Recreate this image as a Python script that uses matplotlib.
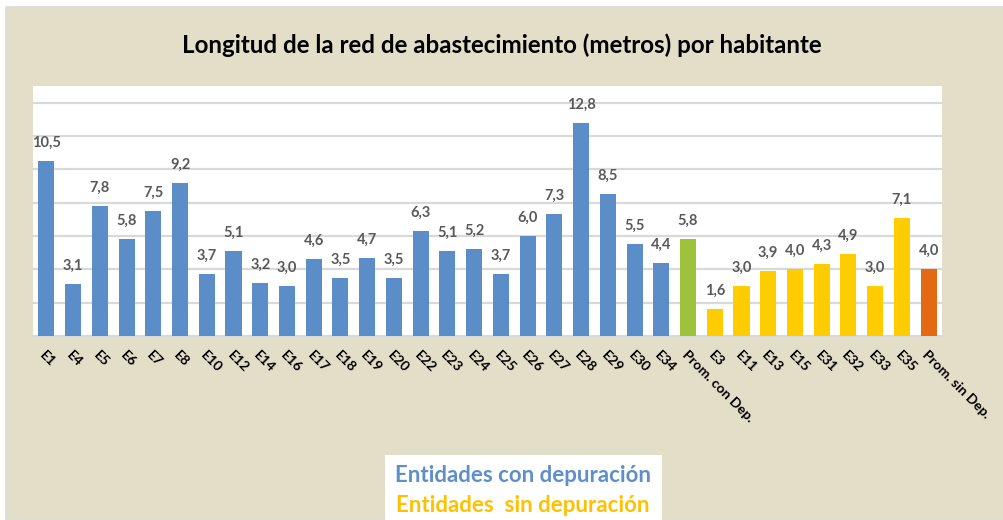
import matplotlib
matplotlib.use("Agg")
import matplotlib.pyplot as plt
from matplotlib.patches import Rectangle

plt.rcParams['font.family'] = ['Lato', 'DejaVu Sans']

# --- data ---------------------------------------------------------------
con_dep_names = ["E1", "E4", "E5", "E6", "E7", "E8", "E10", "E12", "E14", "E16",
                 "E17", "E18", "E19", "E20", "E22", "E23", "E24", "E25", "E26",
                 "E27", "E28", "E29", "E30", "E34"]
con_dep_values = [10.5, 3.1, 7.8, 5.8, 7.5, 9.2, 3.7, 5.1, 3.2, 3.0,
                  4.6, 3.5, 4.7, 3.5, 6.3, 5.1, 5.2, 3.7, 6.0,
                  7.3, 12.8, 8.5, 5.5, 4.4]
prom_con_name = "Prom. con Dep."
prom_con_value = 5.8
sin_dep_names = ["E3", "E11", "E13", "E15", "E31", "E32", "E33", "E35"]
sin_dep_values = [1.6, 3.0, 3.9, 4.0, 4.3, 4.9, 3.0, 7.1]
prom_sin_name = "Prom. sin Dep."
prom_sin_value = 4.0

title = "Longitud de la red de abastecimiento (metros) por habitante"
legend_lines = ["Entidades con depuración", "Entidades  sin depuración"]

# --- colours ------------------------------------------------------------
BLUE = "#5B8EC8"
GREEN = "#9DC23C"
YELLOW = "#FFCC00"
ORANGE = "#E36A12"
BEIGE = "#E3DEC8"
LABEL_GREY = "#595959"
GRID = "#D9D9D9"

names = con_dep_names + [prom_con_name] + sin_dep_names + [prom_sin_name]
values = con_dep_values + [prom_con_value] + sin_dep_values + [prom_sin_value]
colors = ([BLUE] * len(con_dep_names) + [GREEN]
          + [YELLOW] * len(sin_dep_names) + [ORANGE])

fig = plt.figure(figsize=(10.04, 5.2), dpi=100, facecolor="white")

# chart background panel with a thin grey frame on the top/left edges
fig.patches.append(Rectangle((6 / 1004, 0), 1, (520 - 7) / 520,
                             transform=fig.transFigure, facecolor=BEIGE,
                             edgecolor="#DCDCDC", linewidth=1.2, zorder=-2))

ax = fig.add_axes([33 / 1004, (520 - 336) / 520, (942 - 33) / 1004, (336 - 86) / 520])
ax.set_zorder(2)
ax.set_facecolor("white")

x = list(range(len(values)))
ax.bar(x, values, width=0.6, color=colors, zorder=3)

ax.set_xlim(-0.5, len(values) - 0.5)
ax.set_ylim(0, 15)
ax.set_yticks(range(2, 15, 2))
ax.yaxis.grid(True, color=GRID, linewidth=1.6, zorder=0)
ax.tick_params(axis="y", left=False, labelleft=False)
for s in ("top", "right", "left"):
    ax.spines[s].set_visible(False)
ax.spines["bottom"].set_color(GRID)
ax.spines["bottom"].set_linewidth(1.6)

ax.set_xticks(x)
ax.set_xticklabels(names, rotation=-45, ha="left", va="top",
                   rotation_mode="anchor", fontsize=10, fontweight="bold",
                   color="black")
ax.tick_params(axis="x", length=0, pad=9)

for xi, v in zip(x, values):
    ax.annotate(f"{v:.1f}".replace(".", ","), (xi, v), xytext=(0, 13),
                textcoords="offset points", ha="center", va="center",
                fontsize=10.5, fontweight="bold", color=LABEL_GREY)

fig.text(0.5, (520 - 45) / 520, title, ha="center", va="center",
         fontsize=17.4, fontweight="bold", color="black")

# legend box
fig.patches.append(Rectangle((385 / 1004, 0), (662 - 385) / 1004, (520 - 455) / 520,
                             transform=fig.transFigure, facecolor="white",
                             edgecolor="none", zorder=-1))
fig.text(523 / 1004, (520 - 475) / 520, legend_lines[0], ha="center", va="center",
         fontsize=16, fontweight="bold", color="#5E8FCB", zorder=2)
fig.text(523 / 1004, (520 - 506) / 520, legend_lines[1], ha="center", va="center",
         fontsize=16, fontweight="bold", color="#FFC000", zorder=2)

fig.savefig("out.png", dpi=100, facecolor=fig.get_facecolor())
